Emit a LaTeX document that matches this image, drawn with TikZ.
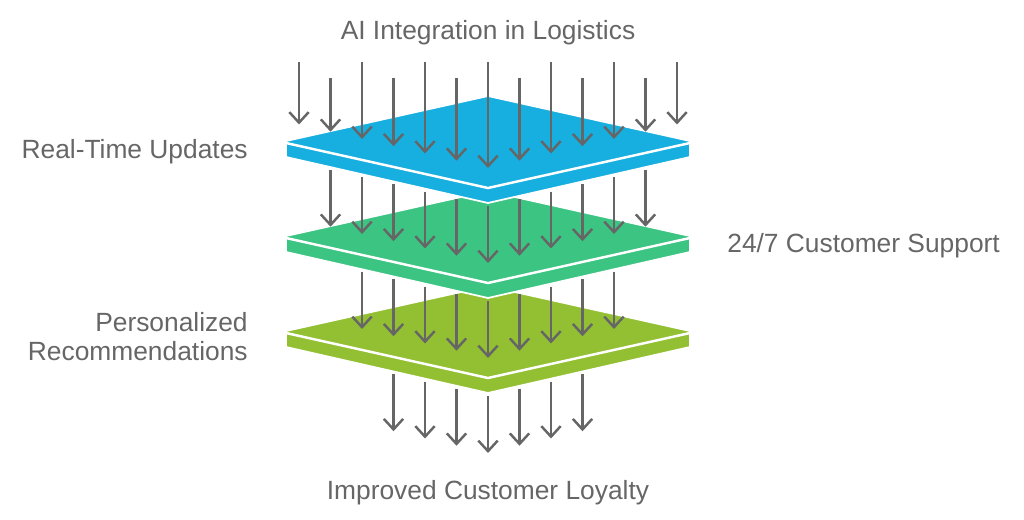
\documentclass[tikz,border=0pt]{standalone}
\usepackage{fontspec}
\setmainfont{Liberation Sans}
\usetikzlibrary{arrows.meta,positioning}
\definecolor{layerblue}{HTML}{17AEE0}
\definecolor{layergreen}{HTML}{3CC483}
\definecolor{layerlime}{HTML}{93C033}
\definecolor{arrowgray}{HTML}{666666}
\definecolor{textgray}{HTML}{666666}

\begin{document}
\begin{tikzpicture}[x=0.02cm, y=-0.02cm]
    % Define styles
    \tikzstyle{layer} = [draw=white, line width=1pt, line join=round]
    \tikzstyle{rim} = [white, line width=1.4pt]
    \tikzstyle{arrow} = [draw=arrowgray, line width=1.4pt, -{Straight Barb[length=6pt, width=11pt]}]
    \tikzstyle{label} = [text=textgray, font=\fontsize{15}{16}\selectfont, inner sep=0pt]

    \useasboundingbox (0,0) rectangle (1024,520);

    % Layers, back to front
    \foreach \dy/\col in {190/layerlime, 95/layergreen, 0/layerblue}{
        \draw[layer, fill=\col] (488,96+\dy) -- (286,141+\dy) -- (286,157+\dy) -- (488,203+\dy) -- (690,157+\dy) -- (690,141+\dy) -- cycle;
        \draw[rim] (286,143+\dy) -- (488,188+\dy) -- (690,143+\dy);
    }

    % Arrows coming in from the top
    \foreach \i in {0,...,12}{
        \pgfmathsetmacro{\x}{488+31.5*(\i-6)}
        \pgfmathsetmacro{\ys}{isodd(\i) ? 78 : 62}
        \pgfmathsetmacro{\ye}{168-7.25*abs(\i-6)}
        \draw[arrow] (\x,\ys) -- (\x,\ye);
    }

    % Arrows passing through the layers
    \foreach \j in {1,2,3}{
        \pgfmathtruncatemacro{\last}{12-\j}
        \foreach \i in {\j,...,\last}{
            \pgfmathsetmacro{\x}{488+31.5*(\i-6)}
            \pgfmathsetmacro{\ys}{206+95*(\j-1)-0.23*abs(\x-488)}
            \pgfmathsetmacro{\ye}{168+95*\j-7.25*abs(\i-6)}
            \draw[arrow] (\x,\ys) -- (\x,\ye);
        }
    }

    % Labels
    \node[label, anchor=base] (title) at (488,40) {AI Integration in Logistics};
    \node[label, anchor=base east] (realtime) at (248,159) {Real-Time Updates};
    \node[label, anchor=base west] (support) at (727,253) {24/7 Customer Support};
    \node[label, anchor=base east, align=right] (personal) at (248,360) {Personalized\\Recommendations};
    \node[label, anchor=base] (loyalty) at (488,499) {Improved Customer Loyalty};
\end{tikzpicture}
\end{document}
